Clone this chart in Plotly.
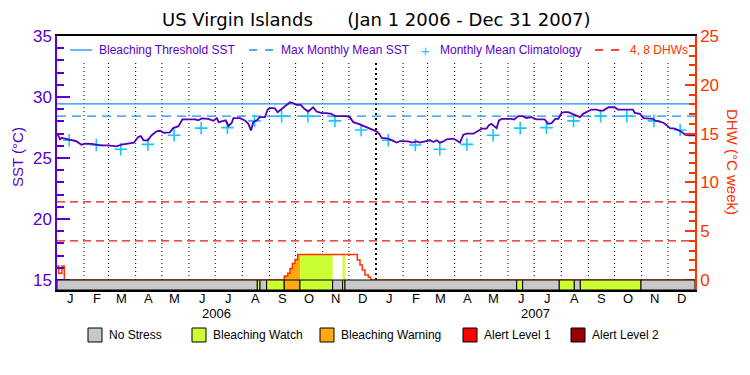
import numpy as np
import pandas as pd
import plotly.graph_objects as go

# ---------------- data ----------------
START = "2006-01-01"
END = "2008-01-01"

# daily SST (deg C), read at days since Jan 1 2006
sst_day = [0, 1.5, 3.4, 5.3, 9, 13, 16.8, 22.5, 28, 32, 40, 49, 58.7, 68, 74, 82, 88, 93, 96, 99,
           104, 108, 114, 118, 122, 129, 133, 139, 143.4, 158, 161.7, 165.5, 173, 179, 183, 185,
           189, 193, 196, 200, 201.8, 209.5, 215, 219, 222, 224.6, 228.5, 232, 238, 241, 243.7,
           249, 252.5, 257, 262.8, 266.6, 270.4, 274, 279, 283, 287.5, 293, 297, 303, 308.5, 314,
           318, 325.6, 331, 335, 339, 345, 354, 360, 365.6, 368.7, 371.5, 379, 385, 388.6, 392.6,
           396, 402, 406, 411.5, 415, 421, 427, 430.6, 434.4, 438, 442, 446, 453.4, 457, 461, 465,
           469, 476.5, 480, 486, 491.5, 494, 497, 503, 505.7, 509, 520, 523, 527.8, 533, 537, 543,
           549, 558, 562, 566, 570, 573.6, 577.4, 581, 585, 589, 594.5, 598.4, 602, 606, 611.6,
           617, 621, 625, 628.9, 631, 638, 642, 648, 659, 661, 667, 671, 676.6, 682, 684, 690,
           694, 697.6, 701.4, 707, 711, 715, 718.6, 722.4, 730]
sst_val = [26.99, 26.85, 26.53, 26.64, 26.58, 26.50, 26.45, 26.36, 26.09, 26.17, 26.15, 26.04, 26.04,
           25.96, 26.09, 26.17, 26.26, 26.72, 26.80, 26.45, 26.45, 26.85, 27.18, 27.23, 27.07, 27.10,
           27.45, 27.61, 28.16, 28.16, 28.10, 28.24, 28.21, 28.05, 28.27, 27.94, 28.00, 28.08, 27.61,
           27.89, 28.27, 28.27, 28.08, 27.80, 27.26, 27.94, 28.08, 28.35, 28.35, 28.97, 29.08, 29.08,
           28.76, 29.03, 29.36, 29.57, 29.49, 29.36, 29.36, 29.03, 28.81, 29.16, 28.81, 28.68, 28.68,
           28.62, 28.43, 28.43, 28.43, 28.35, 27.94, 27.80, 27.53, 27.40, 27.18, 26.99, 26.64, 26.58,
           26.36, 26.26, 26.39, 26.36, 26.36, 26.26, 26.36, 26.26, 26.36, 26.45, 26.31, 26.45, 26.26,
           26.36, 26.53, 26.58, 26.45, 26.26, 26.91, 26.99, 26.99, 27.13, 27.40, 27.40, 27.67, 27.80,
           27.45, 28.08, 28.21, 28.21, 28.16, 28.43, 28.43, 28.27, 28.35, 28.16, 28.16, 27.80, 27.86,
           28.21, 28.21, 28.70, 28.76, 28.76, 28.62, 28.48, 28.35, 28.62, 28.76, 28.97, 28.97, 28.89,
           28.89, 29.08, 29.16, 29.16, 28.97, 28.97, 28.97, 28.70, 28.62, 28.27, 28.21, 28.21, 28.08,
           27.94, 27.89, 27.67, 27.45, 27.40, 27.26, 27.13, 26.91, 26.85, 26.85]

# monthly mean climatology (deg C), Jan..Dec
month_letters = ["J", "F", "M", "A", "M", "J", "J", "A", "S", "O", "N", "D"]
clim_val = [26.45, 26.06, 25.72, 26.12, 26.87, 27.45, 27.49, 28.04, 28.43, 28.43, 28.04, 27.29]
years = [2006, 2007]
MMM = 28.43
THRESH = MMM + 1.0
DHW_LEVELS = [4, 8]

# degree heating weeks (step function, days since Jan 1 2006)
dhw_day = [0, 1.9, 5.7, 8.4, 260, 264, 266.6, 269.3, 272.3, 275.4, 343.6, 346.7, 349.3, 352.4,
           356.2, 358.9, 730]
dhw_val = [1.43, 0.68, 1.43, 0, 0.41, 0.68, 1.19, 1.70, 2.11, 2.62, 2.04, 1.53, 1.02, 0.51,
           0.27, 0, 0]

# bleaching alert stress periods (days since Jan 1 2006) and level
stress_start = [0, 229.2, 232.3, 239.9, 260, 278, 315.4, 326.8, 329.5, 526, 532.8, 574.7, 591.9, 598.8, 668.2]
stress_end = [229.2, 232.3, 239.9, 260, 278, 315.4, 326.8, 329.5, 526, 532.8, 574.7, 591.9, 598.8, 668.2, 730]
stress_level = [0, 1, 0, 1, 2, 1, 0, 1, 0, 1, 0, 1, 0, 1, 0]
stress_names = ["No Stress", "Bleaching Watch", "Bleaching Warning", "Alert Level 1", "Alert Level 2"]
stress_colors = ["#c8c8c8", "#ccff33", "#ffa80f", "#ff0000", "#990000"]

# ---------------- styling ----------------
PURPLE = "#5a00c8"
LINE_PURPLE = "#5200b8"
ORANGE = "#ff3300"
BLUE = "#1e8cf0"
CYAN = "#14c8ff"
FONT = "Liberation Sans, Arial, sans-serif"
TFONT = "DejaVu Sans, Liberation Sans, sans-serif"

W, H = 750, 375
ML, MR, MT, MB = 57, 55, 36, 85
PW, PH = W - ML - MR, H - MT - MB
BASE_PX = 10  # stress bar height (px) below the 15 / 0 baseline
Y_LO, Y_HI = 15.0, 35.0
k1 = (PH - BASE_PX) / (Y_HI - Y_LO)
Y_MIN = Y_LO - BASE_PX / k1
D_HI = 25.0
k2 = (PH - BASE_PX) / D_HI
D_MIN = -BASE_PX / k2


def px(x):
    return (x - ML) / PW


def py(y):
    return (H - MB - y) / PH


def to_date(d):
    return pd.Timestamp(START) + pd.to_timedelta(np.asarray(d, float), unit="D")


fig = go.Figure()

# DHW fill coloured by stress level
dd = np.array(dhw_day, float)
dv = np.array(dhw_val, float)
for s, e, lev in zip(stress_start, stress_end, stress_level):
    if lev == 0:
        continue
    bps = [s] + [d for d in dd if s < d < e] + [e]
    xs, ys = [], []
    for a, b in zip(bps[:-1], bps[1:]):
        v = dv[np.searchsorted(dd, a, side="right") - 1]
        xs += [a, b]
        ys += [v, v]
    if max(ys) <= 0:
        continue
    xs = [s] + xs + [e]
    ys = [0] + ys + [0]
    fig.add_trace(go.Scatter(x=to_date(xs), y=ys, yaxis="y2", mode="lines", fill="toself",
                             fillcolor=stress_colors[lev], line=dict(width=0), hoverinfo="skip",
                             showlegend=False))

# DHW line
fig.add_trace(go.Scatter(x=to_date(dhw_day), y=dhw_val, yaxis="y2", mode="lines",
                         line=dict(color=ORANGE, width=1.5, shape="hv"), name="DHW",
                         showlegend=False))

# DHW 4, 8 lines
for lv in DHW_LEVELS:
    fig.add_trace(go.Scatter(x=[START, END], y=[lv, lv], yaxis="y2", mode="lines",
                             line=dict(color="#ee1111", width=1.2, dash="8px,5px"),
                             showlegend=False, hoverinfo="skip"))

# threshold & MMM
fig.add_trace(go.Scatter(x=[START, END], y=[THRESH, THRESH], mode="lines",
                         line=dict(color=BLUE, width=1.3), showlegend=False))
fig.add_trace(go.Scatter(x=[START, END], y=[MMM, MMM], mode="lines",
                         line=dict(color=BLUE, width=1.3, dash="9px,6px"), showlegend=False))

# climatology crosses
clim_x = [pd.Timestamp(y, m + 1, 15) for y in years for m in range(12)]
clim_y = [clim_val[m] for y in years for m in range(12)]
fig.add_trace(go.Scatter(x=clim_x, y=clim_y, mode="markers",
                         marker=dict(symbol="cross-thin", size=9, line=dict(color=CYAN, width=1.6)),
                         showlegend=False))

# SST
fig.add_trace(go.Scatter(x=to_date(sst_day), y=sst_val, mode="lines",
                         line=dict(color=LINE_PURPLE, width=1.8), showlegend=False))

shapes = []
# month dotted lines
month_starts = pd.date_range("2006-02-01", "2007-12-01", freq="MS")
for d in month_starts:
    yr = d.month == 1
    shapes.append(dict(type="line", xref="x", yref="y", x0=d, x1=d, y0=Y_LO,
                       y1=Y_LO + (280 - 63) / k1, layer="below",
                       line=dict(color="black", width=2 if yr else 1,
                                 dash="2px,3px" if yr else "1px,3px")))
# stress bar
for s, e, lev in zip(stress_start, stress_end, stress_level):
    shapes.append(dict(type="rect", xref="x", yref="y", x0=to_date(s), x1=to_date(e),
                       y0=Y_MIN, y1=Y_LO, fillcolor=stress_colors[lev],
                       line=dict(color="black", width=1)))

annotations = []
# top legend
ly = py(50)
shapes.append(dict(type="line", xref="paper", yref="paper", x0=px(70), x1=px(92), y0=ly, y1=ly,
                   line=dict(color=BLUE, width=1.3)))
shapes.append(dict(type="line", xref="paper", yref="paper", x0=px(249), x1=px(273), y0=ly, y1=ly,
                   line=dict(color=BLUE, width=1.3, dash="8px,8px")))
shapes.append(dict(type="line", xref="paper", yref="paper", x0=px(595), x1=px(623), y0=ly, y1=ly,
                   line=dict(color="#ee1111", width=1.3, dash="8px,8px")))
annotations.append(dict(text="+", x=px(425), y=ly, xref="paper", yref="paper", showarrow=False,
                        font=dict(color=CYAN, size=15, family=FONT), xanchor="center", yanchor="middle"))
for t, x0, c in [("Bleaching Threshold SST", 97, PURPLE), ("Max Monthly Mean SST", 279, PURPLE),
                 ("Monthly Mean Climatology", 438, PURPLE), ("4, 8 DHWs", 628, ORANGE)]:
    annotations.append(dict(text=t, x=px(x0), y=ly, xref="paper", yref="paper", showarrow=False,
                            font=dict(color=c, size=12, family=FONT), xanchor="left", yanchor="middle"))

# bottom legend
lby = 335
box_x = [88, 192, 320, 463, 571]
for i, (name, col) in enumerate(zip(stress_names, stress_colors)):
    shapes.append(dict(type="rect", xref="paper", yref="paper", x0=px(box_x[i]), x1=px(box_x[i] + 14),
                       y0=py(lby + 7), y1=py(lby - 7), fillcolor=col,
                       line=dict(color="black", width=1)))
    annotations.append(dict(text=name, x=px(box_x[i] + 19), y=py(lby), xref="paper", yref="paper",
                            showarrow=False, font=dict(color="black", size=12, family=FONT),
                            xanchor="left", yanchor="middle"))

# month labels
for y in years:
    for m in range(12):
        annotations.append(dict(text=month_letters[m], x=pd.Timestamp(y, m + 1, 16), y=py(298),
                                xref="x", yref="paper", showarrow=False,
                                font=dict(color="black", size=13, family=FONT),
                                xanchor="center", yanchor="middle"))
# year labels
for yr in years:
    annotations.append(dict(text=str(yr), x=pd.Timestamp(yr, 7, 2), y=py(313), xref="x", yref="paper",
                            showarrow=False, font=dict(color="black", size=13, family=FONT),
                            xanchor="center", yanchor="middle"))

# title
annotations.append(dict(text="US Virgin Islands\u00a0\u00a0\u00a0\u00a0\u00a0\u00a0(Jan 1 2006 - Dec 31 2007)",
                        x=px(376), y=py(20), xref="paper", yref="paper", showarrow=False,
                        font=dict(color="black", size=18, family=TFONT), xanchor="center", yanchor="middle"))
# axis titles
annotations.append(dict(text="SST (°C)", x=px(17), y=py(157), xref="paper", yref="paper",
                        showarrow=False, textangle=-90, font=dict(color=PURPLE, size=15, family=FONT),
                        xanchor="center", yanchor="middle"))
annotations.append(dict(text="DHW (°C week)", x=px(733), y=py(162), xref="paper", yref="paper",
                        showarrow=False, textangle=90, font=dict(color=ORANGE, size=15, family=FONT),
                        xanchor="center", yanchor="middle"))

fig.update_layout(
    width=W, height=H, margin=dict(l=ML, r=MR, t=MT, b=MB, pad=0),
    paper_bgcolor="white", plot_bgcolor="white", showlegend=False,
    font=dict(family=FONT), hovermode=False,
    xaxis=dict(type="date", range=[START, END], showticklabels=False, ticks="",
               showgrid=False, zeroline=False,
               showline=True, mirror=True, linecolor="black", linewidth=1.5),
    yaxis=dict(range=[Y_MIN, Y_HI], tickmode="array", tickvals=[15, 20, 25, 30, 35],
               ticks="inside", ticklen=13, tickwidth=1.5, tickcolor=PURPLE,
               minor=dict(tickmode="array", tickvals=list(range(15, 36)), ticks="inside",
                          ticklen=7, tickwidth=1.5, tickcolor=PURPLE),
               showgrid=False, zeroline=False, showline=True, linecolor=PURPLE, linewidth=1.5,
               tickfont=dict(size=17, color=PURPLE, family=FONT)),
    yaxis2=dict(range=[D_MIN, D_HI], overlaying="y", side="right", tickmode="array",
                tickvals=[0, 5, 10, 15, 20, 25], ticks="inside", ticklen=10, tickwidth=1.5,
                tickcolor=ORANGE,
                minor=dict(tickmode="array", tickvals=list(range(0, 26)), ticks="inside",
                           ticklen=6, tickwidth=1.5, tickcolor=ORANGE),
                showgrid=False, zeroline=False, showline=True, linecolor=ORANGE, linewidth=1.5,
                tickfont=dict(size=17, color=ORANGE, family=FONT)),
    shapes=shapes, annotations=annotations,
)

fig.write_html("out.html", config={"displayModeBar": False},
               post_script="document.body.style.margin='0';document.body.style.overflow='hidden';")
